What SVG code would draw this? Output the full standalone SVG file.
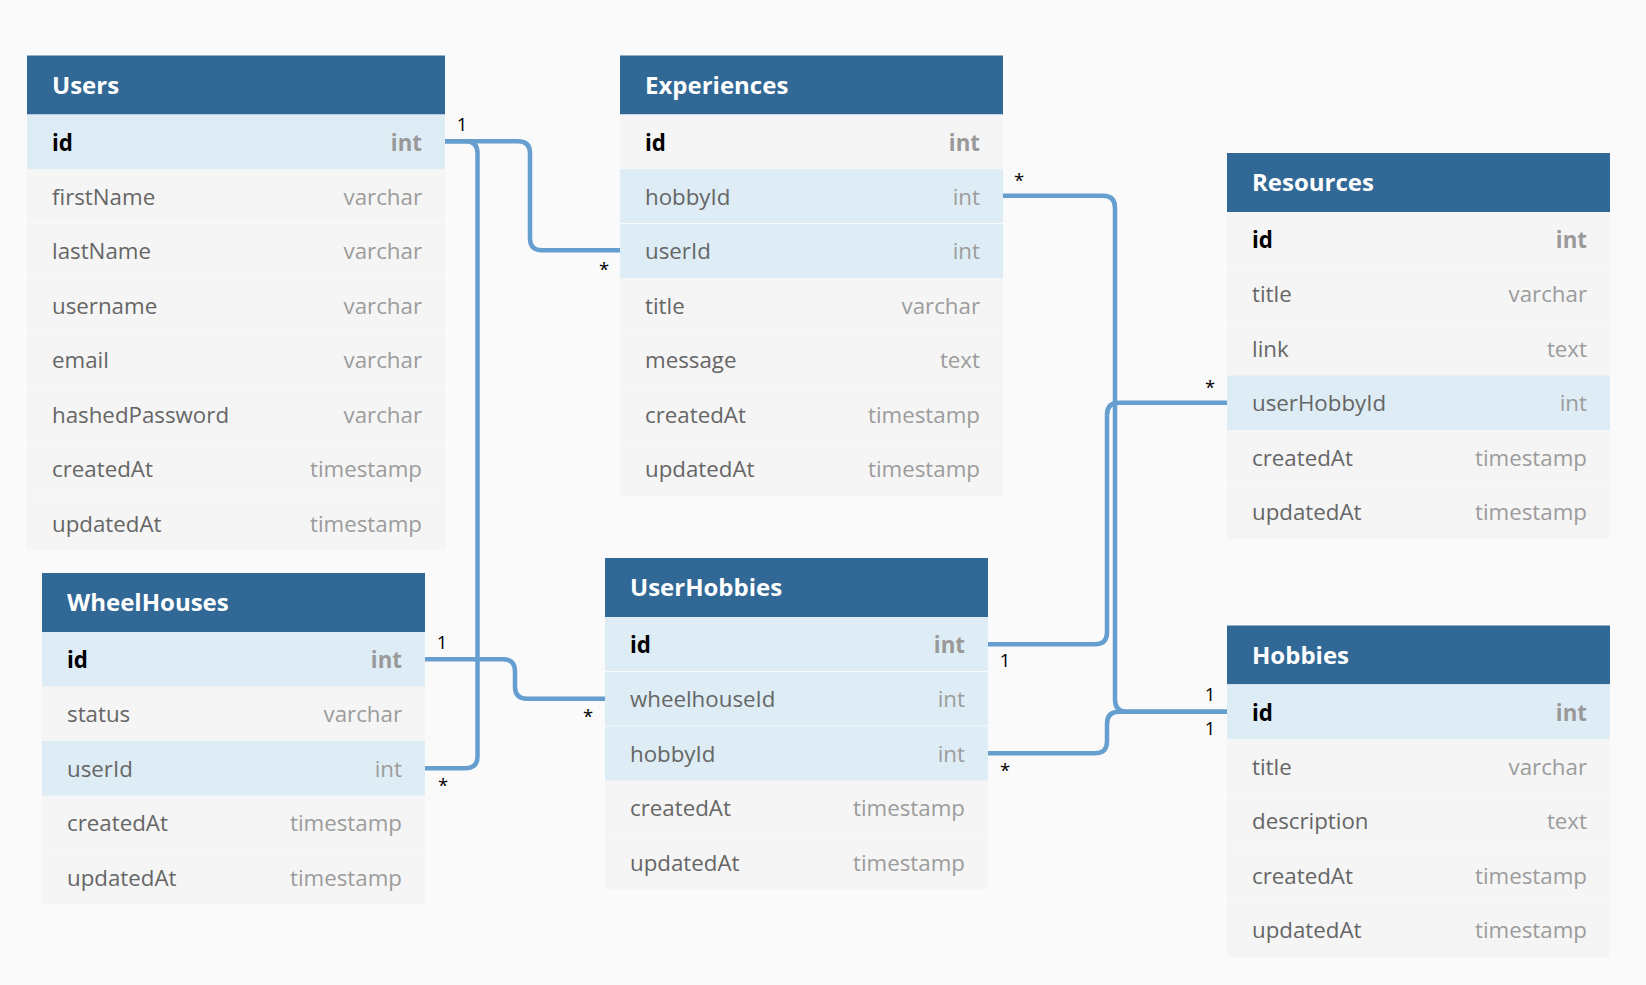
<svg xmlns="http://www.w3.org/2000/svg" width="1646" height="985" viewBox="0 0 1646 985">
<style>
.bg{fill:#fafafa}
.hd{fill:#316896}
.ht{fill:#ffffff;font-family:"Open Sans","Noto Sans",sans-serif;font-size:24px;font-weight:700}
.r{fill:#f5f5f5}
.rh{fill:#deedf5}
.sep{stroke:#f9f9f9;stroke-width:1}
.n{fill:#666666;font-family:"Open Sans","Noto Sans",sans-serif;font-size:22.3px}
.t{fill:#9c9c9c;font-family:"Open Sans","Noto Sans",sans-serif;font-size:22.3px;text-anchor:end}
.nb{fill:#000000;font-family:"Open Sans","Noto Sans",sans-serif;font-size:22.3px;font-weight:700}
.tb{fill:#999999;font-family:"Open Sans","Noto Sans",sans-serif;font-size:22.3px;font-weight:700;text-anchor:end}
.c{fill:none;stroke:#659ecf;stroke-width:4.5}
.lb{fill:#000000;font-family:"Open Sans","Noto Sans",sans-serif;font-size:18.5px;text-anchor:middle}
</style>
<rect class="bg" x="0" y="0" width="1646" height="985"/>

<g id="connectors">
<path class="c" d="M445,141.25 H518 Q530,141.25 530,153.25 V238.25 Q530,250.25 542,250.25 H620"/>
<path class="c" d="M445,141.25 H465.5 Q477.5,141.25 477.5,153.25 V756.25 Q477.5,768.25 465.5,768.25 H425"/>
<path class="c" d="M425,659.25 H503 Q515,659.25 515,671.25 V686.75 Q515,698.75 527,698.75 H605"/>
<path class="c" d="M1003,195.75 H1103 Q1115,195.75 1115,207.75 V699.75 Q1115,711.75 1127,711.75 H1227"/>
<path class="c" d="M1227,402.75 H1119 Q1107,402.75 1107,414.75 V632.25 Q1107,644.25 1095,644.25 H988"/>
<path class="c" d="M988,753.25 H1095 Q1107,753.25 1107,741.25 V723.75 Q1107,711.75 1119,711.75 H1227"/>
<text class="lb" x="462" y="131">1</text>
<text class="lb" x="604" y="276">*</text>
<text class="lb" x="443" y="792">*</text>
<text class="lb" x="442" y="649">1</text>
<text class="lb" x="588" y="723">*</text>
<text class="lb" x="1019" y="187">*</text>
<text class="lb" x="1210" y="701">1</text>
<text class="lb" x="1210" y="394">*</text>
<text class="lb" x="1005" y="667">1</text>
<text class="lb" x="1005" y="777">*</text>
<text class="lb" x="1210" y="735">1</text>
</g>

<g id="Users">
<rect class="hd" x="27" y="55.5" width="418" height="59"/>
<text class="ht" x="52" y="93.5">Users</text>
<rect class="rh" x="27" y="114.5" width="418" height="54.5"/>
<rect class="r" x="27" y="169" width="418" height="381.5"/>
<line class="sep" x1="27" y1="223.5" x2="445" y2="223.5"/>
<line class="sep" x1="27" y1="278" x2="445" y2="278"/>
<line class="sep" x1="27" y1="332.5" x2="445" y2="332.5"/>
<line class="sep" x1="27" y1="387" x2="445" y2="387"/>
<line class="sep" x1="27" y1="441.5" x2="445" y2="441.5"/>
<line class="sep" x1="27" y1="496" x2="445" y2="496"/>
<text class="nb" x="52" y="150.5">id</text><text class="tb" x="422" y="150.5">int</text>
<text class="n" x="52" y="204.5">firstName</text><text class="t" x="422" y="204.5">varchar</text>
<text class="n" x="52" y="259">lastName</text><text class="t" x="422" y="259">varchar</text>
<text class="n" x="52" y="313.5">username</text><text class="t" x="422" y="313.5">varchar</text>
<text class="n" x="52" y="368">email</text><text class="t" x="422" y="368">varchar</text>
<text class="n" x="52" y="422.5">hashedPassword</text><text class="t" x="422" y="422.5">varchar</text>
<text class="n" x="52" y="477">createdAt</text><text class="t" x="422" y="477">timestamp</text>
<text class="n" x="52" y="531.5">updatedAt</text><text class="t" x="422" y="531.5">timestamp</text>
</g>

<g id="Experiences">
<rect class="hd" x="620" y="55.5" width="383" height="59"/>
<text class="ht" x="645" y="93.5">Experiences</text>
<rect class="r" x="620" y="114.5" width="383" height="381.5"/>
<rect class="rh" x="620" y="169" width="383" height="109"/>
<line class="sep" x1="620" y1="223.5" x2="1003" y2="223.5"/>
<line class="sep" x1="620" y1="332.5" x2="1003" y2="332.5"/>
<line class="sep" x1="620" y1="387" x2="1003" y2="387"/>
<line class="sep" x1="620" y1="441.5" x2="1003" y2="441.5"/>
<text class="nb" x="645" y="150.5">id</text><text class="tb" x="980" y="150.5">int</text>
<text class="n" x="645" y="204.5">hobbyId</text><text class="t" x="980" y="204.5">int</text>
<text class="n" x="645" y="259">userId</text><text class="t" x="980" y="259">int</text>
<text class="n" x="645" y="313.5">title</text><text class="t" x="980" y="313.5">varchar</text>
<text class="n" x="645" y="368">message</text><text class="t" x="980" y="368">text</text>
<text class="n" x="645" y="422.5">createdAt</text><text class="t" x="980" y="422.5">timestamp</text>
<text class="n" x="645" y="477">updatedAt</text><text class="t" x="980" y="477">timestamp</text>
</g>

<g id="Resources">
<rect class="hd" x="1227" y="153" width="383" height="59"/>
<text class="ht" x="1252" y="191">Resources</text>
<rect class="r" x="1227" y="212" width="383" height="327"/>
<rect class="rh" x="1227" y="375.5" width="383" height="54.5"/>
<line class="sep" x1="1227" y1="266.5" x2="1610" y2="266.5"/>
<line class="sep" x1="1227" y1="321" x2="1610" y2="321"/>
<line class="sep" x1="1227" y1="484.5" x2="1610" y2="484.5"/>
<text class="nb" x="1252" y="248">id</text><text class="tb" x="1587" y="248">int</text>
<text class="n" x="1252" y="302">title</text><text class="t" x="1587" y="302">varchar</text>
<text class="n" x="1252" y="356.5">link</text><text class="t" x="1587" y="356.5">text</text>
<text class="n" x="1252" y="411">userHobbyId</text><text class="t" x="1587" y="411">int</text>
<text class="n" x="1252" y="465.5">createdAt</text><text class="t" x="1587" y="465.5">timestamp</text>
<text class="n" x="1252" y="520">updatedAt</text><text class="t" x="1587" y="520">timestamp</text>
</g>

<g id="WheelHouses">
<rect class="hd" x="42" y="573" width="383" height="59"/>
<text class="ht" x="67" y="611">WheelHouses</text>
<rect class="r" x="42" y="632" width="383" height="272.5"/>
<rect class="rh" x="42" y="632" width="383" height="54.5"/>
<rect class="rh" x="42" y="741" width="383" height="54.5"/>
<line class="sep" x1="42" y1="850" x2="425" y2="850"/>
<text class="nb" x="67" y="668">id</text><text class="tb" x="402" y="668">int</text>
<text class="n" x="67" y="722">status</text><text class="t" x="402" y="722">varchar</text>
<text class="n" x="67" y="776.5">userId</text><text class="t" x="402" y="776.5">int</text>
<text class="n" x="67" y="831">createdAt</text><text class="t" x="402" y="831">timestamp</text>
<text class="n" x="67" y="885.5">updatedAt</text><text class="t" x="402" y="885.5">timestamp</text>
</g>

<g id="UserHobbies">
<rect class="hd" x="605" y="558" width="383" height="59"/>
<text class="ht" x="630" y="596">UserHobbies</text>
<rect class="r" x="605" y="617" width="383" height="272.5"/>
<rect class="rh" x="605" y="617" width="383" height="163.5"/>
<line class="sep" x1="605" y1="671.5" x2="988" y2="671.5"/>
<line class="sep" x1="605" y1="726" x2="988" y2="726"/>
<line class="sep" x1="605" y1="835" x2="988" y2="835"/>
<text class="nb" x="630" y="653">id</text><text class="tb" x="965" y="653">int</text>
<text class="n" x="630" y="707">wheelhouseId</text><text class="t" x="965" y="707">int</text>
<text class="n" x="630" y="761.5">hobbyId</text><text class="t" x="965" y="761.5">int</text>
<text class="n" x="630" y="816">createdAt</text><text class="t" x="965" y="816">timestamp</text>
<text class="n" x="630" y="870.5">updatedAt</text><text class="t" x="965" y="870.5">timestamp</text>
</g>

<g id="Hobbies">
<rect class="hd" x="1227" y="625.5" width="383" height="59"/>
<text class="ht" x="1252" y="663.5">Hobbies</text>
<rect class="r" x="1227" y="684.5" width="383" height="272.5"/>
<rect class="rh" x="1227" y="684.5" width="383" height="54.5"/>
<line class="sep" x1="1227" y1="793.5" x2="1610" y2="793.5"/>
<line class="sep" x1="1227" y1="848" x2="1610" y2="848"/>
<line class="sep" x1="1227" y1="902.5" x2="1610" y2="902.5"/>
<text class="nb" x="1252" y="720.5">id</text><text class="tb" x="1587" y="720.5">int</text>
<text class="n" x="1252" y="774.5">title</text><text class="t" x="1587" y="774.5">varchar</text>
<text class="n" x="1252" y="829">description</text><text class="t" x="1587" y="829">text</text>
<text class="n" x="1252" y="883.5">createdAt</text><text class="t" x="1587" y="883.5">timestamp</text>
<text class="n" x="1252" y="938">updatedAt</text><text class="t" x="1587" y="938">timestamp</text>
</g>
</svg>
